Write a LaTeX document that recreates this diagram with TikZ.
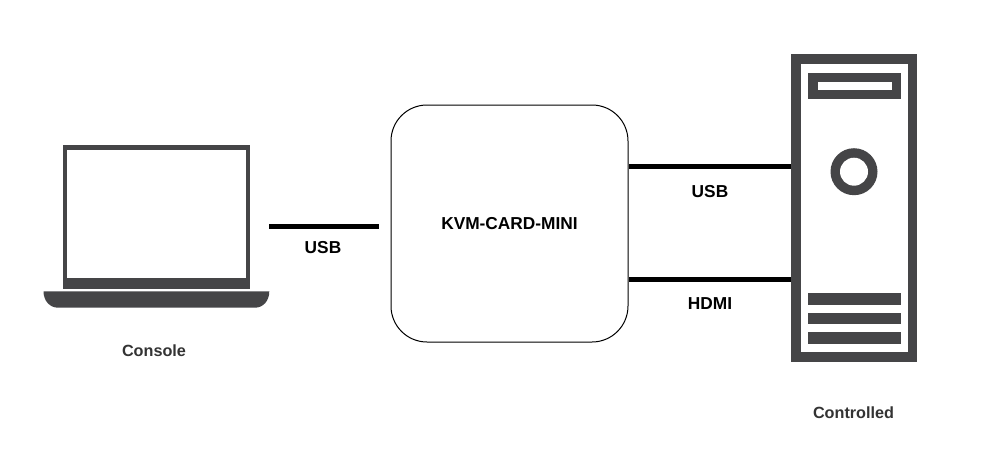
\documentclass[tikz,border=0pt]{standalone}
\usepackage{fontspec}
\setmainfont{Liberation Sans}
\definecolor{icon}{HTML}{454547}
\definecolor{labelc}{HTML}{333333}
\tikzset{
  iconfill/.style={fill=icon,draw=none},
  holefill/.style={fill=white,draw=none},
  wire/.style={draw=black,line width=5pt},
  biglabel/.style={font=\fontsize{17.3}{19}\selectfont\bfseries,text=black,inner sep=0pt,anchor=center},
  smalllabel/.style={font=\fontsize{16.2}{18}\selectfont\bfseries,text=labelc,inner sep=0pt,anchor=center}
}
\begin{document}
\begin{tikzpicture}[x=1pt,y=-1pt]
\useasboundingbox[fill=white] (0,0) rectangle (991,471);
% laptop
\fill[iconfill] (62.7,145) rectangle (250,289);
\fill[holefill] (67.3,150) rectangle (245.7,278.3);
\fill[iconfill] (43.5,291.3) -- (269.3,291.3) .. controls (269.3,301) and (263,307.7) .. (255,307.7) -- (58,307.7) .. controls (50,307.7) and (43.5,301) .. (43.5,291.3) -- cycle;
% tower
\fill[iconfill] (791,54.3) rectangle (917,361.7);
\fill[holefill] (800.5,64.3) rectangle (907.7,352);
\fill[iconfill] (808,73) rectangle (900.5,99);
\fill[holefill] (817.5,82) rectangle (891.5,90);
\fill[iconfill] (854,171.7) circle (23.5);
\fill[holefill] (854,171.7) circle (14);
\fill[iconfill] (808,293.3) rectangle (900.5,304.5);
\fill[iconfill] (808,312.5) rectangle (900.5,323.5);
\fill[iconfill] (808,332) rectangle (900.5,343.5);
% card
\node[draw=black,line width=1pt,fill=white,rounded corners=36pt,minimum width=237pt,minimum height=237pt,inner sep=0pt] (card) at (509.5,223.5) {};
\node[biglabel] (cardlabel) at (509.5,223.5) {KVM-CARD-MINI};
% connectors
\coordinate (consoleend) at (269,226);
\coordinate (cardleft) at (379,226);
\coordinate (usbstart) at (629,166);
\coordinate (usbend) at (791,166);
\coordinate (hdmistart) at (629,279);
\coordinate (hdmiend) at (791,279);
\draw[wire] (consoleend) -- (cardleft);
\draw[wire] (usbstart) -- (usbend);
\draw[wire] (hdmistart) -- (hdmiend);
% labels
\node[biglabel] (usba) at (323,247.5) {USB};
\node[biglabel] (usbb) at (710,191.5) {USB};
\node[biglabel] (hdmi) at (710,304) {HDMI};
\node[smalllabel] (console) at (154,350.5) {Console};
\node[smalllabel] (controlled) at (853.5,412.5) {Controlled};
\end{tikzpicture}
\end{document}
